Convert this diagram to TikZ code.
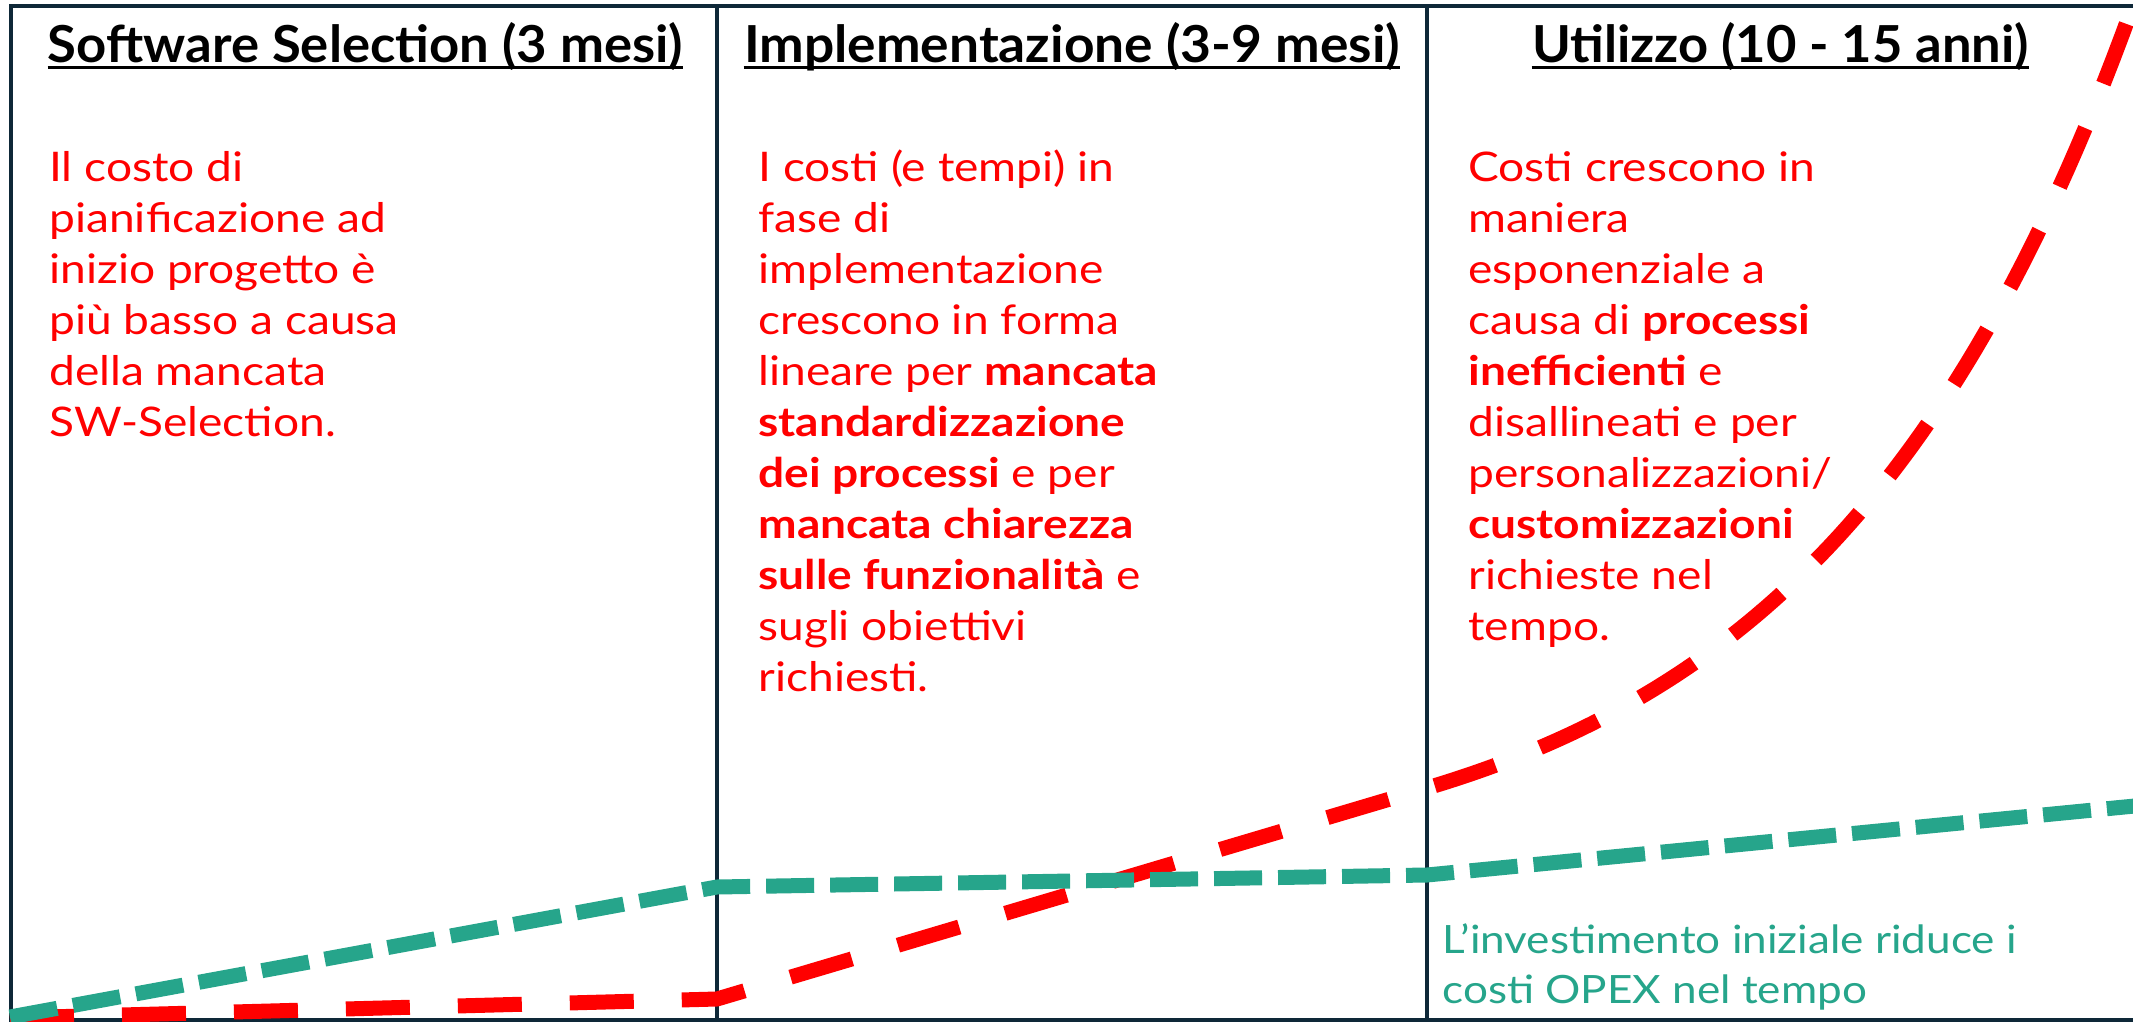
\documentclass[tikz,border=0pt]{standalone}
\usepackage{fontspec}
\usepackage{graphicx}
\setmainfont{Lato}
\newfontfamily\bodyfont[FakeStretch=1.13]{Lato}
\newfontfamily\headfont{Lato}
\newfontfamily\greenfont[FakeStretch=1.13]{Lato}
\definecolor{framecol}{RGB}{14,40,56}
\definecolor{tealcol}{RGB}{38,165,139}
\definecolor{redcol}{RGB}{255,0,0}
\newcommand\hbx[2]{\resizebox{#1}{\height}{#2}}
\begin{document}
\begin{tikzpicture}[x=0.5pt,y=-0.5pt,
  framestyle/.style={draw=framecol,line width=2pt},
  headstyle/.style={font=\headfont\bfseries\fontsize{25.5}{30}\selectfont,inner sep=0pt,anchor=base,text=black},
  ulinestyle/.style={draw=black,line width=1.5pt},
  bodystyle/.style={font=\bodyfont\fontsize{20.4}{25.5}\selectfont,text=redcol,align=left,inner sep=0pt,anchor=base west},
  greenstyle/.style={font=\greenfont\fontsize{19.5}{25}\selectfont,text=tealcol,align=left,inner sep=0pt,anchor=base west},
  redline/.style={draw=redcol,line width=7.5pt,dash pattern=on 32pt off 24pt},
  greenline/.style={draw=tealcol,line width=7.5pt,dash pattern=on 24pt off 8pt}]
\useasboundingbox (0,0) rectangle (2133,1022);
% frame and dividers
\draw[framestyle] (2145,6.5) -- (11,6.5) -- (11,1019.5) -- (2145,1019.5);
\coordinate (d1t) at (717,6.5);
\coordinate (d1b) at (717,1019.5);
\coordinate (d2t) at (1427,6.5);
\coordinate (d2b) at (1427,1019.5);
\draw[framestyle] (d1t) -- (d1b);
\draw[framestyle] (d2t) -- (d2b);
% headers
\node[headstyle] (h1) at (365.5,63) {\hbx{317.5pt}{Software Selection (3 mesi)}};
\node[headstyle] (h2) at (1072,63) {\hbx{328pt}{Implementazione (3-9 mesi)}};
\node[headstyle] (h3) at (1780.5,63) {\hbx{248.5pt}{Utilizzo (10 - 15 anni)}};
\draw[ulinestyle] ([yshift=-2.5pt]h1.base west) -- ([yshift=-2.5pt]h1.base east);
\draw[ulinestyle] ([yshift=-2.5pt]h2.base west) -- ([yshift=-2.5pt]h2.base east);
\draw[ulinestyle] ([yshift=-2.5pt]h3.base west) -- ([yshift=-2.5pt]h3.base east);
% body texts (anchored at the baseline of the last line)
\node[bodystyle] (t1) at (49,436) {Il costo di\\pianificazione ad\\inizio progetto è\\più basso a causa\\della mancata\\SW-Selection.};
\node[bodystyle] (t2) at (758,691) {I costi (e tempi) in\\fase di\\implementazione\\crescono in forma\\lineare per \textbf{mancata}\\\textbf{standardizzazione}\\\textbf{dei processi} e per\\\textbf{mancata chiarezza}\\\textbf{sulle funzionalità} e\\sugli obiettivi\\richiesti.};
\node[bodystyle] (t3) at (1468,640) {Costi crescono in\\maniera\\esponenziale a\\causa di \textbf{processi}\\\textbf{inefficienti} e\\disallineati e per\\personalizzazioni/\\\textbf{customizzazioni}\\richieste nel\\tempo.};
\node[greenstyle] (t4) at (1442,1003) {L’investimento iniziale riduce i\\costi OPEX nel tempo};
% curves
\coordinate (r0) at (10,1018);
\coordinate (r1) at (717,999);
\coordinate (r2) at (1427,788);
\coordinate (g0) at (10,1017);
\coordinate (g1) at (717,887);
\coordinate (g2) at (1427,875);
\coordinate (g3) at (2145,805);
\begin{scope}
\clip (0,0) rectangle (2133,1022);
\draw[redline] (r0) -- (r1) -- (r2) -- plot[domain=1427:2150,samples=80] (\x,{788-94.3*(exp(0.00316*(\x-1427))-1)});
\draw[greenline] (g0) -- (g1) -- (g2) -- (g3);
\end{scope}
\end{tikzpicture}
\end{document}
